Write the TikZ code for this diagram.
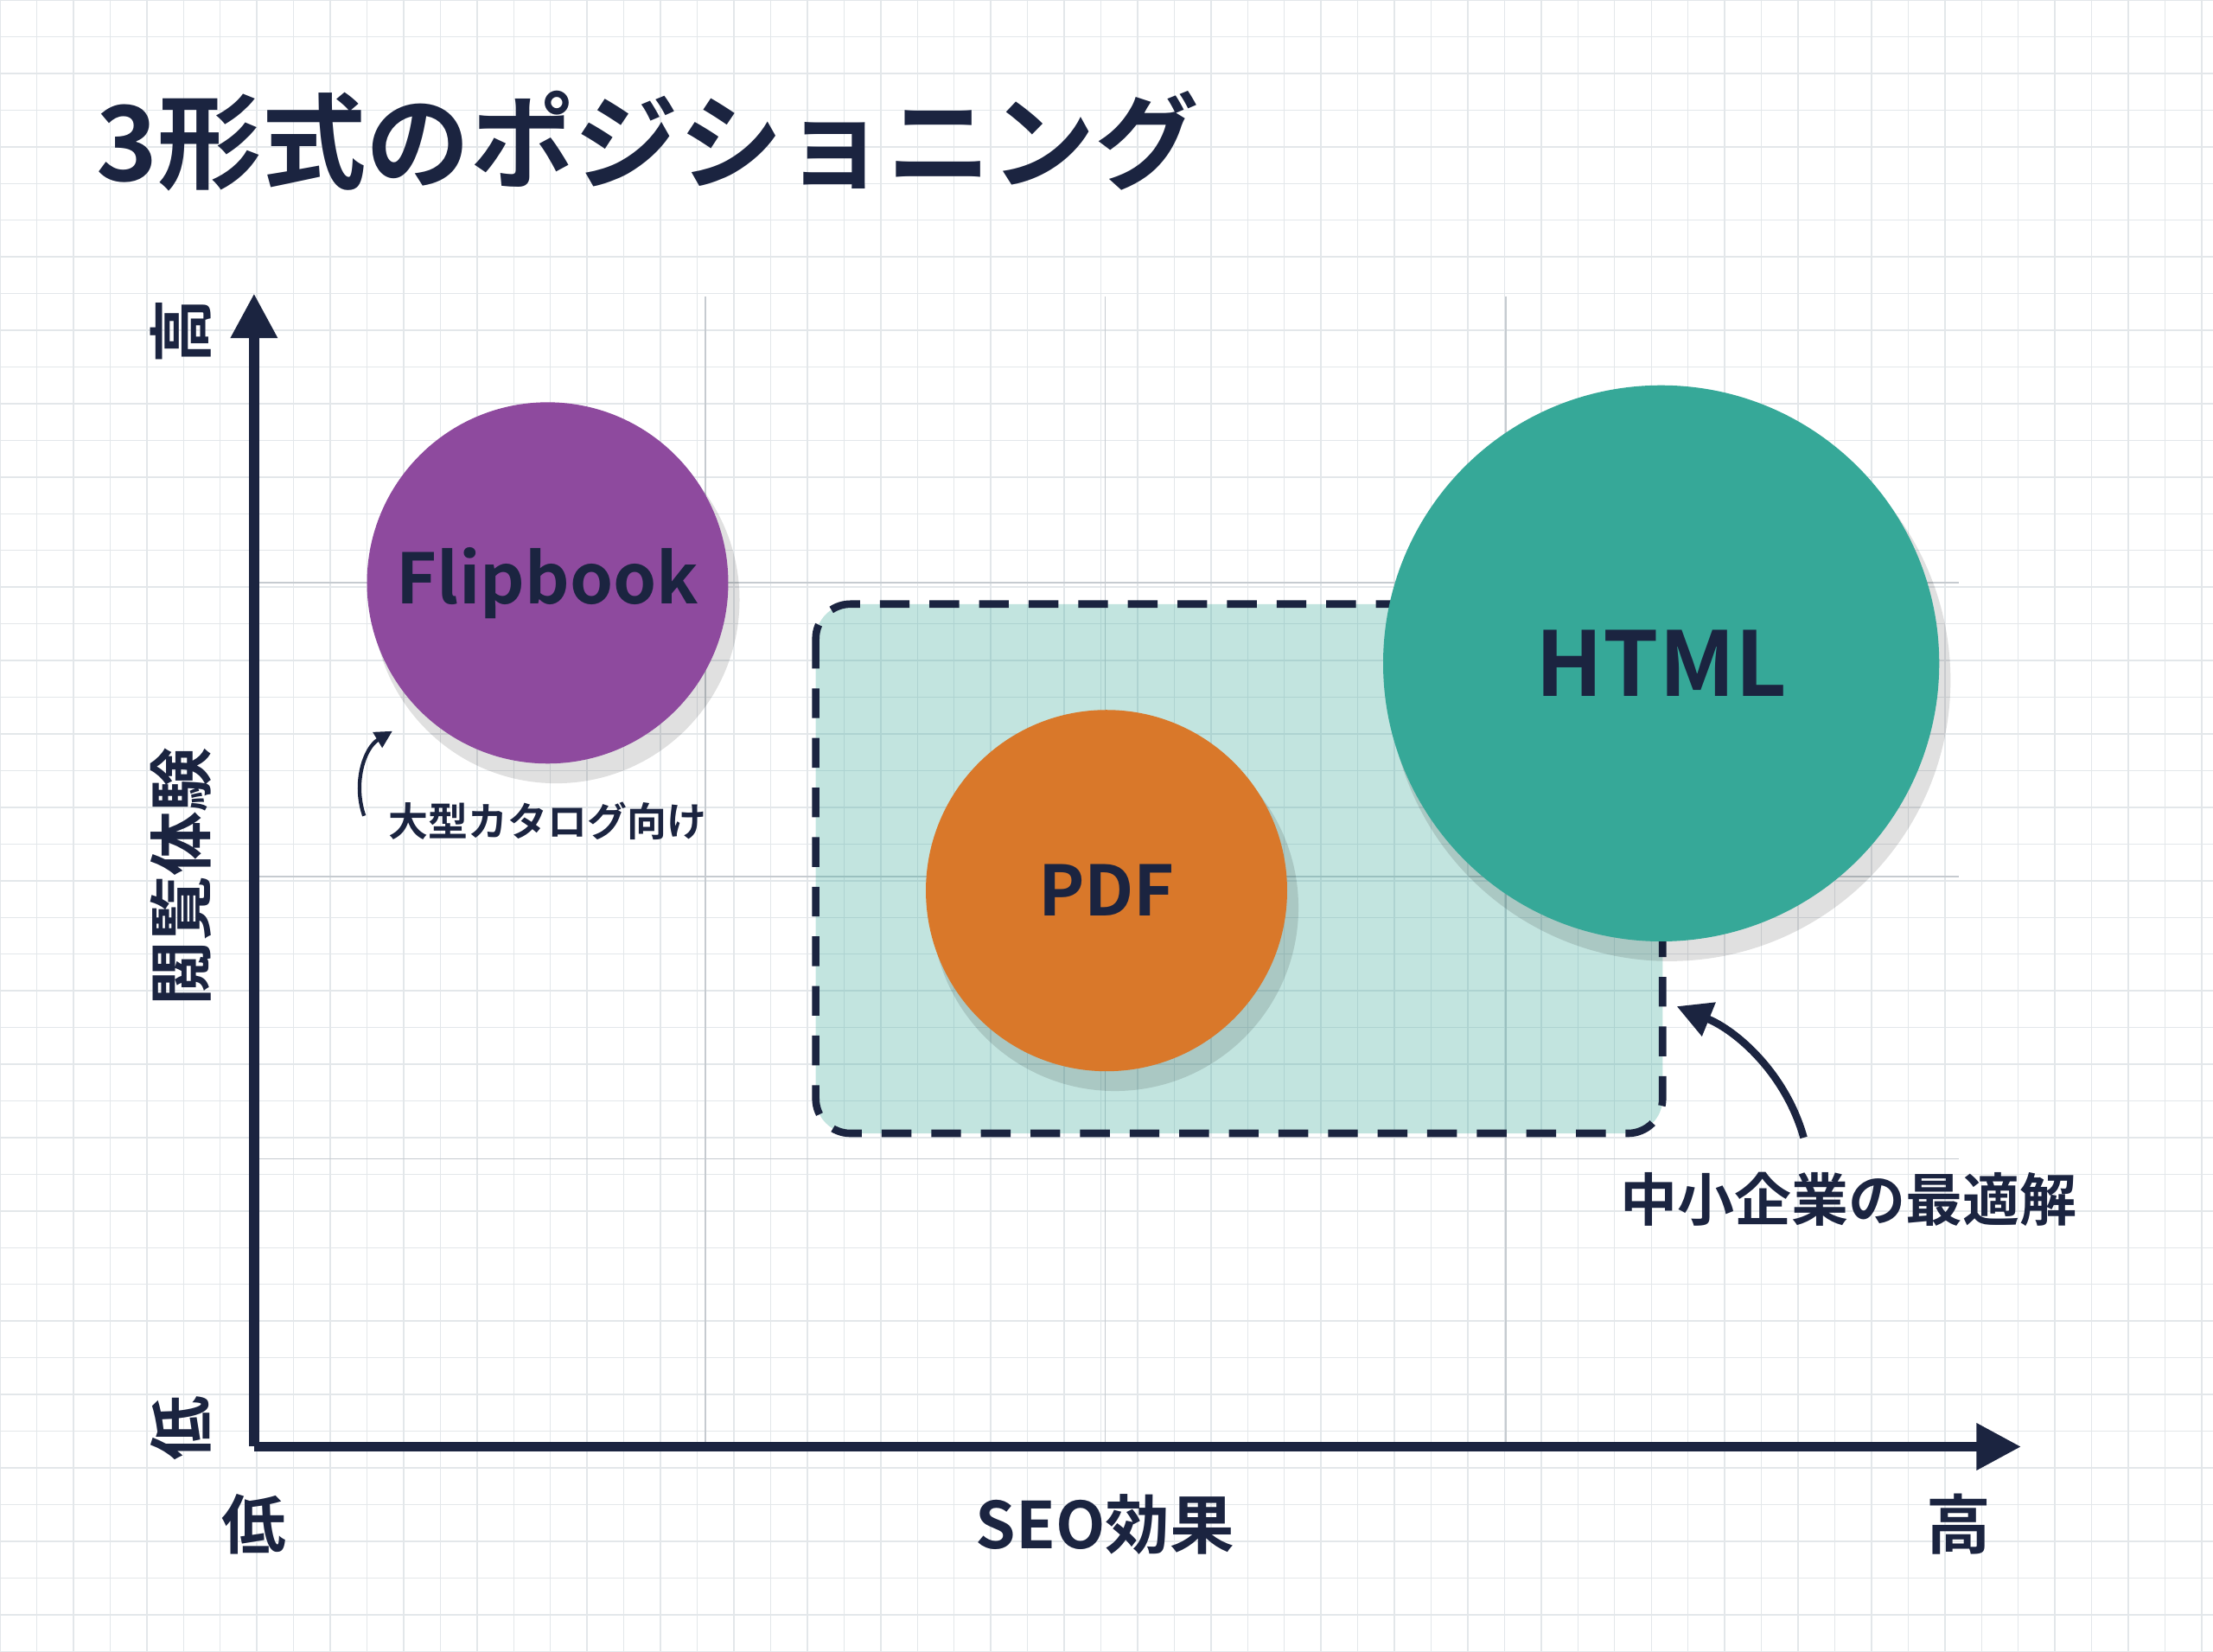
\documentclass[tikz,border=0pt]{standalone}
\usepackage{fontspec}
\setmainfont{Noto Sans CJK JP Bold}
\usetikzlibrary{arrows.meta}
\definecolor{navy}{HTML}{1B2440}
\definecolor{purp}{HTML}{8E4A9E}
\definecolor{oran}{HTML}{D9782A}
\definecolor{teal}{HTML}{36A898}
\definecolor{gridc}{HTML}{E3E7EA}
\definecolor{majc}{HTML}{C6CBD0}
\tikzset{
  lbl/.style={text=navy,inner sep=0pt},
  bubble/.style={circle,inner sep=0pt,text=navy},
  gline/.style={draw=majc,line width=0.6pt},
}
\begin{document}
\begin{tikzpicture}[x=0.02cm,y=-0.02cm]
\fill[white] (0,0) rectangle (1568,1170);
\useasboundingbox (0,0) rectangle (1568,1170);
\foreach \i in {0,...,61} \draw[gridc,line width=0.5pt] (\i*26,0) -- (\i*26,1170);
\foreach \i in {0,...,45} \draw[gridc,line width=0.5pt] (0,\i*26) -- (1568,\i*26);
\node[lbl,anchor=west,font=\fontsize{42}{42}\selectfont] (title) at (68,100) {3形式のポジショニング};
% chart grid
\foreach \x in {500,783,1067} \draw[gline] (\x,210) -- (\x,1022);
\foreach \y in {413,621,821} \draw[gline] (183,\y) -- (1388,\y);
% axes
\coordinate (o) at (180,1025);
\coordinate (ytop) at (180,208);
\coordinate (xend) at (1432,1025);
\draw[navy,line width=4pt,-{Triangle[length=18pt,width=18pt]}] (o) -- (ytop);
\draw[navy,line width=4pt,-{Triangle[length=18pt,width=18pt]}] (o) -- (xend);
\node[lbl,rotate=90,font=\fontsize{26}{26}\selectfont] (yh) at (128,235) {高};
\node[lbl,rotate=90,font=\fontsize{26}{26}\selectfont] (yl) at (128,1012) {低};
\node[lbl,rotate=90,font=\fontsize{26}{26}\selectfont] (yt) at (128,621) {閲覧体験};
\node[lbl,font=\fontsize{26}{26}\selectfont] (xl) at (180,1080) {低};
\node[lbl,font=\fontsize{26}{26}\selectfont] (xt) at (783,1080) {SEO効果};
\node[lbl,font=\fontsize{26}{26}\selectfont] (xh) at (1388,1080) {高};
% region
\draw[navy,line width=3pt,dash pattern=on 12pt off 8pt,fill=teal,fill opacity=0.3,rounded corners=14pt] (578,428) rectangle (1178,803);
\node[inner sep=0pt] (region) at (878,615) {};
% shadows
\fill[black,opacity=0.12] (394,425) circle (130);
\fill[black,opacity=0.12] (790,643) circle (130);
\fill[black,opacity=0.12] (1183,482) circle (199);
\node[bubble,fill=purp,minimum size=256*0.02cm,font=\fontsize{28}{28}\selectfont] (flip) at (388,413) {Flipbook};
\node[bubble,fill=oran,minimum size=256*0.02cm,font=\fontsize{28}{28}\selectfont] (pdf) at (784,631) {PDF};
\node[bubble,fill=teal,minimum size=394*0.02cm,font=\fontsize{36}{36}\selectfont] (html) at (1177,470) {HTML};
% annotations
\node[lbl,font=\fontsize{16}{16}\selectfont] (big) at (388,582) {大型カタログ向け};
\coordinate (a1) at (258,578);
\coordinate (a2) at (278,518);
\draw[navy,line width=1.5pt,-{Triangle[length=7pt,width=7pt]}] (a1) .. controls (250,555) and (258,530) .. (a2);
\node[lbl,font=\fontsize{23}{23}\selectfont] (sme) at (1310,850) {中小企業の最適解};
\coordinate (b1) at (1278,806);
\coordinate (b2) at (1188,713);
\draw[navy,line width=3pt,-{Triangle[length=14pt,width=14pt]}] (b1) .. controls (1265,760) and (1230,730) .. (b2);
\end{tikzpicture}
\end{document}
